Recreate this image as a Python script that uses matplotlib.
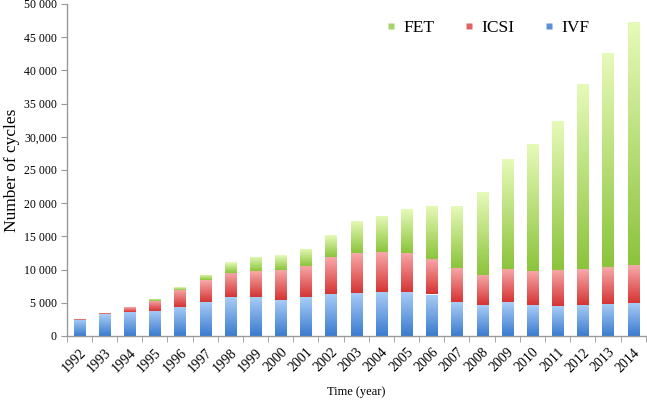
import numpy as np
import matplotlib
matplotlib.use("Agg")
import matplotlib.pyplot as plt
from matplotlib.colors import LinearSegmentedColormap
from matplotlib.lines import Line2D

years = ["1992", "1993", "1994", "1995", "1996", "1997", "1998", "1999", "2000", "2001",
         "2002", "2003", "2004", "2005", "2006", "2007", "2008", "2009", "2010", "2011",
         "2012", "2013", "2014"]
ivf = [2450, 3300, 3680, 3770, 4380, 5130, 5800, 5890, 5430, 5800,
       6400, 6550, 6640, 6640, 6250, 5090, 4630, 5090, 4630, 4480,
       4740, 4830, 4980]
icsi = [80, 150, 650, 1510, 2620, 3230, 3710, 3870, 4530, 4760,
        5520, 5980, 5940, 5890, 5330, 5170, 4530, 5070, 5230, 5430,
        5420, 5530, 5690]
fet = [70, 80, 30, 360, 350, 800, 1570, 2120, 2220, 2570,
       3230, 4830, 5490, 6550, 7990, 9310, 12480, 16460, 19020, 22450,
       27720, 32200, 36560]
ytick_values = [0, 5000, 10000, 15000, 20000, 25000, 30000, 35000, 40000, 45000, 50000]
ytick_labels = ["0", "5 000", "10 000", "15 000", "20 000", "25 000", "30,000",
                "35 000", "40 000", "45 000", "50 000"]

series = [
    ("IVF", ivf, "#a9cdf6", "#3a7bd0", "#5b8fd8"),
    ("ICSI", icsi, "#f7a9a9", "#d63434", "#e06262"),
    ("FET", fet, "#e6fab8", "#8cc43c", "#a6d46a"),
]

plt.rcParams["font.family"] = ["Liberation Serif", "DejaVu Serif"]

fig = plt.figure(figsize=(6.47, 4.0), dpi=100)
ax = fig.add_axes([0.103, 0.16, 0.895, 0.83])

x = np.arange(len(years))
bottom = np.zeros(len(years))
grad = np.linspace(0, 1, 64).reshape(-1, 1)
for name, vals, ctop, cbot, cleg in series:
    vals = np.array(vals, dtype=float)
    bars = ax.bar(x, vals, width=0.44, bottom=bottom, color="none", edgecolor="none")
    cmap = LinearSegmentedColormap.from_list(name, [cbot, ctop])
    for b in bars:
        x0, y0 = b.get_x(), b.get_y()
        w, h = b.get_width(), b.get_height()
        if h <= 0:
            continue
        im = ax.imshow(grad, cmap=cmap, origin="lower", aspect="auto",
                       extent=[x0, x0 + w, y0, y0 + h], zorder=2, interpolation="bilinear")
        im.set_clip_path(b)
    bottom = bottom + vals

ax.set_xlim(-0.5, len(years) - 0.5)
ax.set_ylim(0, 50000)

ax.set_xticks(x)
ax.set_xticklabels(years, rotation=45, ha="right", rotation_mode="anchor", fontsize=10)
ax.tick_params(axis="x", which="major", length=0, pad=7)
ax.set_xticks(np.arange(-0.5, len(years), 1.0), minor=True)
ax.tick_params(axis="x", which="minor", length=4, color="#999999", direction="out")

ax.set_yticks(ytick_values)
ax.set_yticklabels(ytick_labels, fontsize=8.5)
ax.tick_params(axis="y", length=4, color="#999999", direction="out", pad=3)

for s in ["top", "right"]:
    ax.spines[s].set_visible(False)
for s in ["left", "bottom"]:
    ax.spines[s].set_color("#999999")
    ax.spines[s].set_linewidth(1.0)

ax.set_ylabel("Number of cycles", fontsize=12.5)
ax.yaxis.set_label_coords(-0.080, 0.5)
ax.set_xlabel("Time (year)", fontsize=9, labelpad=8)

handles = [Line2D([], [], marker="s", linestyle="none", markersize=5,
                  markerfacecolor=s[4], markeredgecolor="none") for s in series[::-1]]
labels = [s[0] for s in series[::-1]]
ax.legend(handles, labels, ncol=3, loc="upper right", bbox_to_anchor=(0.93, 1.0),
          frameon=False, fontsize=12.5, handlelength=0.8, handletextpad=0.3,
          columnspacing=1.6)

fig.savefig("out.png", dpi=100)
